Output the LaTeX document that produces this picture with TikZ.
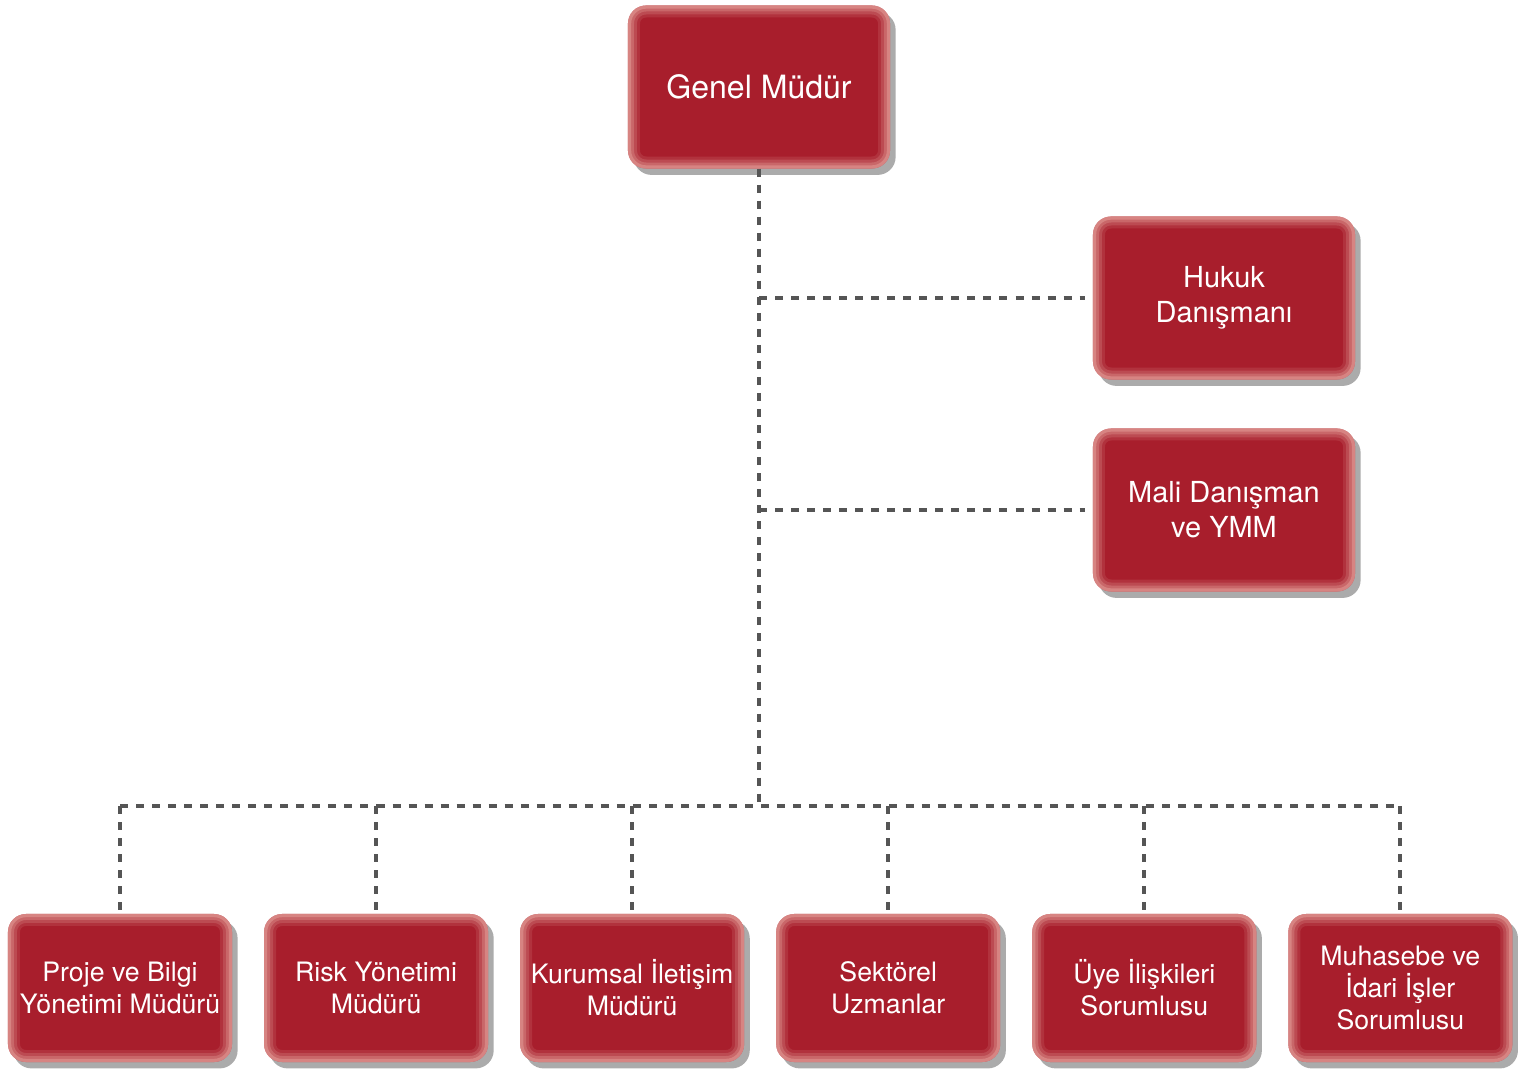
\documentclass[tikz,border=0pt]{standalone}
\usepackage{fontspec}
\setmainfont{TeX Gyre Heros}
\definecolor{boxred}{HTML}{A81E2C}
\definecolor{glow}{HTML}{ECB0A8}
\definecolor{linegray}{HTML}{555555}
\tikzstyle{unit}=[rectangle,rounded corners=0.45cm,fill=boxred,text=white,
align=center,inner sep=0pt,outer sep=0pt,
drop shadow={shadow xshift=0.14cm,shadow yshift=-0.16cm,fill=black!60,opacity=0.55},
path picture={\foreach \w/\o in {0.6/0.14,0.45/0.2,0.3/0.28,0.16/0.4}
\draw[glow,line width=\w cm,opacity=\o,rounded corners=0.45cm]
(path picture bounding box.south west) rectangle (path picture bounding box.north east);}]
\tikzstyle{bigunit}=[unit,minimum width=6.55cm,minimum height=4.075cm]
\tikzstyle{smallunit}=[unit,minimum width=5.6cm,minimum height=3.7cm,
font=\fontsize{19}{22.8}\selectfont]
\tikzstyle{link}=[draw=linegray,line width=2.8pt,dash pattern=on 5.7pt off 5.7pt]
\usetikzlibrary{positioning,shadows}

\begin{document}
\begin{tikzpicture}[x=0.025cm,y=-0.025cm]
            \useasboundingbox (0,0) rectangle (1534,1069);

            % TOP PART

            \node[bigunit,font=\fontsize{22.8}{27}\selectfont] (gm) at (759,87) {Genel Müdür};

            % ADVISOR PART

            \node[bigunit,font=\fontsize{20.6}{24.9}\selectfont] (hukuk) at (1224,298) {Hukuk\\Danışmanı};
            \node[bigunit,font=\fontsize{20.6}{24.9}\selectfont] (mali) at (1224,510) {Mali Danışman\\ve YMM};

            % DEPARTMENT PART

            \node[smallunit] (proje) at (120,988) {Proje ve Bilgi\\Yönetimi Müdürü};
            \node[smallunit, right=0.8cm of proje] (risk) {Risk Yönetimi\\Müdürü};
            \node[smallunit, right=0.8cm of risk] (kurumsal) {Kurumsal İletişim\\Müdürü};
            \node[smallunit, right=0.8cm of kurumsal] (sektorel) {Sektörel\\Uzmanlar};
            \node[smallunit, right=0.8cm of sektorel] (uye) {Üye İlişkileri\\Sorumlusu};
            \node[smallunit, right=0.8cm of uye] (muhasebe) {Muhasebe ve\\İdari İşler\\Sorumlusu};

            % Connections

            \coordinate (bus) at (759,806);
            \path[link] (gm.south) -- (bus);
            \path[link,shorten >=0.2cm] (gm.south |- hukuk) -- (hukuk.west);
            \path[link,shorten >=0.2cm] (gm.south |- mali) -- (mali.west);
            \path[link] (proje.north |- bus) -- (muhasebe.north |- bus);
            \foreach \d in {proje,risk,kurumsal,sektorel,uye,muhasebe}
                \path[link,shorten >=0.1cm] (\d.north |- bus) -- (\d.north);

\end{tikzpicture}
\end{document}
